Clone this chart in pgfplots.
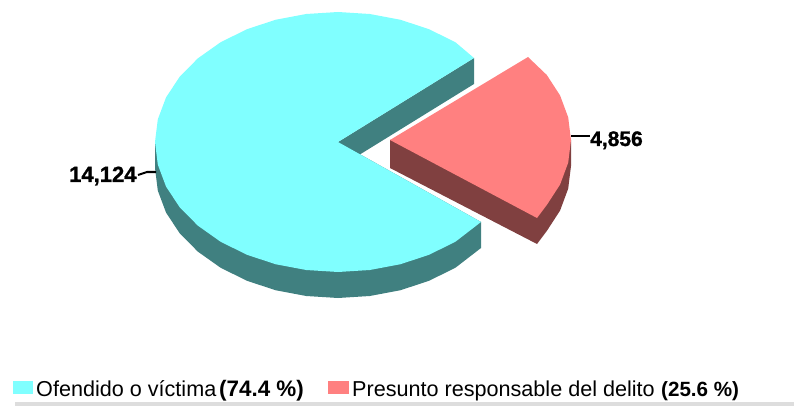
\documentclass[border=0pt]{standalone}
\usepackage{pgfplots}
\pgfplotsset{compat=1.18}
\usepackage{fontspec}
\setmainfont{Liberation Sans}
\newfontfamily\heavy[FakeBold=1.2]{Liberation Sans Bold}
\definecolor{cy}{HTML}{80FFFF}
\definecolor{cyd}{HTML}{408080}
\definecolor{rd}{HTML}{FF8080}
\definecolor{rdd}{HTML}{804040}
\definecolor{gb}{HTML}{DDDDDD}
\newcommand{\lab}{\fontsize{22}{22}\selectfont\heavy}
\newcommand{\leg}{\fontsize{21.6}{22}\selectfont}
\begin{document}
\begin{tikzpicture}[x=1pt,y=1pt]
\useasboundingbox (0,0) rectangle (794,406);
\begin{axis}[at={(0,0)},anchor=south west,scale only axis,width=794pt,height=406pt,
  xmin=0,xmax=794,ymin=0,ymax=406,y dir=reverse,hide axis]
% blue slice: inner cut face and outer rim
\addplot[fill=cyd,draw=none] coordinates {(474,58)(474,84)(338,168)(338,142)};
\addplot[fill=cyd,draw=none] coordinates {(155,142)(155,168)(157.8,190.6)(166,212.5)(179.5,233)(197.8,251.6)(220.4,267.6)(246.5,280.6)(275.4,290.2)(306.2,296)(338,298)(369.8,296)(400.6,290.2)(429.5,280.6)(455.6,267.6)(481,248)(481,222)(338,142)};
% blue top face
\addplot[fill=cy,draw=none] coordinates {(338,142)(474,58)(455.6,42.4)(429.5,29.4)(400.6,19.8)(369.8,14)(338,12)(306.2,14)(275.4,19.8)(246.5,29.4)(220.4,42.4)(197.8,58.4)(179.5,77)(166,97.5)(157.8,119.4)(155,142)(157.8,164.6)(166,186.5)(179.5,207)(197.8,225.6)(220.4,241.6)(246.5,254.6)(275.4,264.2)(306.2,270)(338,272)(369.8,270)(400.6,264.2)(429.5,254.6)(455.6,241.6)(481,222)};
% red slice
\addplot[fill=rdd,draw=none] coordinates {(571,140)(571,166)(568.2,188.6)(560.1,210.5)(546.8,231)(537,244)(390,168)(390,140)};
\addplot[fill=rd,draw=none] coordinates {(390,140)(528,57)(546.8,75)(560.1,95.5)(568.2,117.4)(571,140)(568.2,162.6)(560.1,184.5)(546.8,205)(537,218)};
% leaders
\addplot[black,line width=2pt] coordinates {(571,136)(590,136)};
\addplot[black,line width=2pt] coordinates {(138,175)(147,172)(156,172)};
% legend swatches and rule
\addplot[fill=cy,draw=none] coordinates {(13,381)(33,381)(33,394)(13,394)};
\addplot[fill=rd,draw=none] coordinates {(328,381)(349,381)(349,394)(328,394)};
\addplot[fill=gb,draw=none] coordinates {(15,402)(794,402)(794,406)(15,406)};
% texts
\node[anchor=base west,inner sep=0pt] at (axis cs:590,146) {\fontsize{21}{22}\selectfont\heavy 4,856};
\node[anchor=base west,inner sep=0pt] at (axis cs:69,182) {\lab 14,124};
\node[anchor=base west,inner sep=0pt] at (axis cs:36,396) {\leg Ofendido o víctima};
\node[anchor=base west,inner sep=0pt] at (axis cs:219,396) {\fontsize{22.4}{22}\selectfont\bfseries (74.4 \%)};
\node[anchor=base west,inner sep=0pt] at (axis cs:352,396) {\leg Presunto responsable del delito};
\node[anchor=base west,inner sep=0pt] at (axis cs:661,396) {\fontsize{20.6}{22}\selectfont\bfseries (25.6 \%)};
\end{axis}
\end{tikzpicture}
\end{document}
